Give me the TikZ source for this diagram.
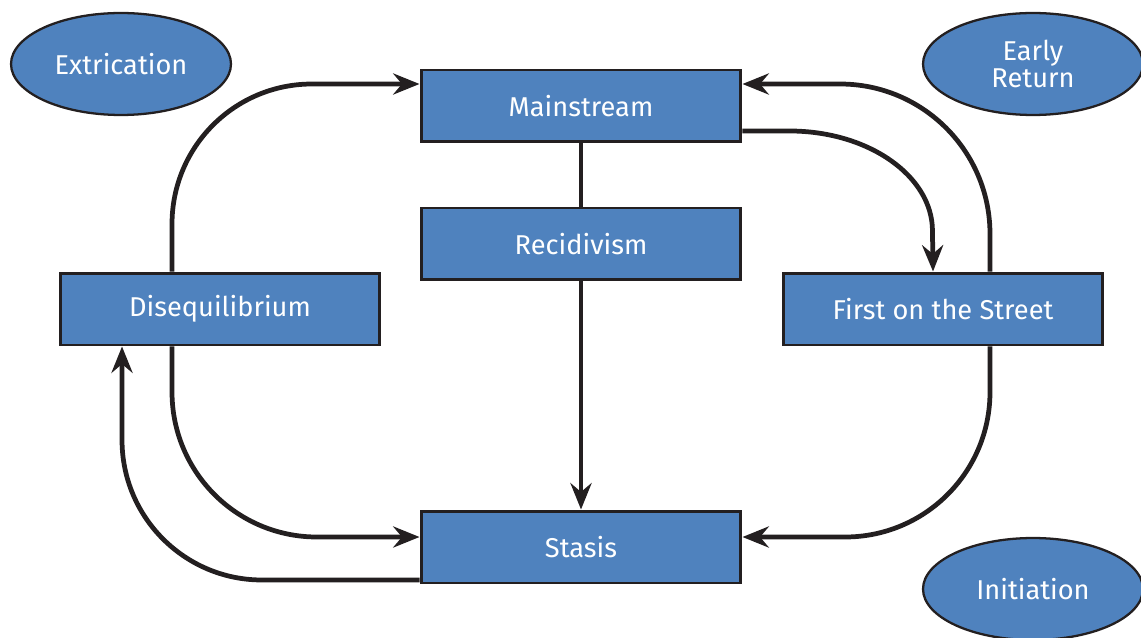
\documentclass[tikz,border=0pt]{standalone}
\usepackage{fontspec}
\setmainfont{Fira Sans}
\usetikzlibrary{shapes.geometric, arrows.meta}
\definecolor{boxblue}{RGB}{79,130,190}
\definecolor{inkline}{RGB}{35,31,32}
\begin{document}
\begin{tikzpicture}[x = 0.02cm, y = -0.02cm,
        stage/.style = {draw = inkline, line width = 1.7pt, fill = boxblue, text = white,
            minimum width = 6.4cm, minimum height = 1.44cm, inner sep = 0pt,
            font = \fontsize{15.5}{16}\selectfont},
        phase/.style = {ellipse, draw = inkline, line width = 1.3pt, fill = boxblue, text = white,
            minimum width = 4.4cm, minimum height = 2.04cm, inner sep = 0pt, align = center,
            font = \fontsize{15.5}{15.5}\selectfont},
        flow/.style = {draw = inkline, line width = 2.7pt, -{Stealth[length = 15pt, width = 12pt, inset = 5pt]}}]
        \useasboundingbox (0, 0) rectangle (1141, 638);
        % stages
        \node[stage] (main) at (581, 106) {Mainstream};
        \node[stage] (recid) at (581, 244) {Recidivism};
        \node[stage] (diseq) at (220, 309) {Disequilibrium};
        \node[stage] (first) at (943, 309) {First on the Street};
        \node[stage] (stasis) at (581, 547) {Stasis};
        % phases
        \node[phase] (extric) at (121, 64) {Extrication};
        \node[phase] (early) at (1033, 64) {Early\\Return};
        \node[phase] (init) at (1033, 589) {Initiation};
        % connectors
        \draw[flow, rounded corners = 2.8cm] ([xshift = -0.96cm]diseq.north) |- ([yshift = 0.44cm]main.west);
        \draw[flow, rounded corners = 2.9cm] ([xshift = -0.96cm]diseq.south) |- ([yshift = 0.2cm]stasis.west);
        \draw[flow, rounded corners = 2.8cm] ([yshift = -0.66cm]stasis.west) -| ([xshift = -1.96cm]diseq.south);
        \draw[flow] ([yshift = -0.5cm]main.east) -- ++(47, 0) .. controls +(79, 0) and +(0, -55) .. ++(143, 100) -- ([xshift = -0.2cm]first.north);
        \draw[flow, rounded corners = 3cm] ([xshift = 0.94cm]first.north) |- ([yshift = 0.44cm]main.east);
        \draw[flow, rounded corners = 2.9cm] ([xshift = 0.94cm]first.south) |- ([yshift = 0.2cm]stasis.east);
        \draw[draw = inkline, line width = 2.7pt] (main.south) -- (recid.north);
        \draw[flow] (recid.south) -- (stasis.north);
\end{tikzpicture}
\end{document}
